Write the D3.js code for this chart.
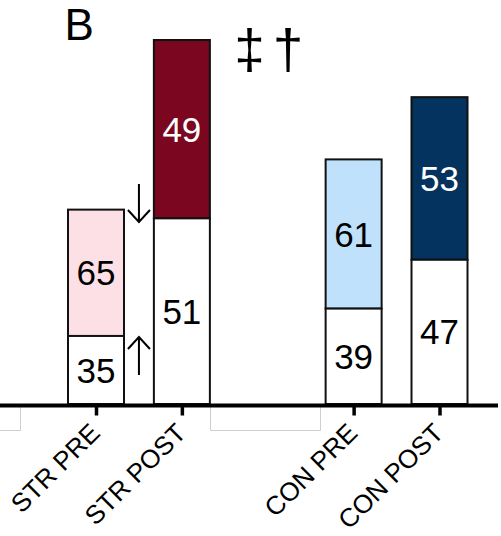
<!DOCTYPE html>
<html>
<head>
<meta charset="utf-8">
<script src="https://cdn.jsdelivr.net/npm/d3@7/dist/d3.min.js"></script>
<style>
  html, body { margin: 0; padding: 0; background: #fff; }
  svg { display: block; font-family: "Liberation Sans", Arial, sans-serif; }
</style>
</head>
<body>
<svg id="chart" width="501" height="536"></svg>
<script>
// Groups along the x axis; "" is an empty slot separating STR from CON
const slots = ["STR PRE", "STR POST", "", "CON PRE", "CON POST"];
const categories = ["STR PRE", "STR POST", "CON PRE", "CON POST"];
// Total bar height (relative units)
const totals = [53.4, 100, 67.2, 84.3];
// Percent of each bar: lower (white) part and upper (coloured) part
const lowerPct = [35, 51, 39, 47];
const upperPct = [65, 49, 61, 53];
const upperColors = ["#fde0e6", "#7b0620", "#bfe1fb", "#03335e"];
const upperTextColors = ["#000", "#fff", "#000", "#fff"];

const svg = d3.select("#chart");
const baseY = 404;
const barW = 56;

const x = d3.scalePoint().domain(slots).range([96, 439.5]);
const y = d3.scaleLinear().domain([0, 100]).range([baseY, 40]);

const rows = categories.map((c, i) => ({
  cat: c,
  total: totals[i],
  lower: totals[i] * lowerPct[i] / 100,
  lowerPct: lowerPct[i],
  upperPct: upperPct[i],
  color: upperColors[i],
  tcolor: upperTextColors[i]
}));

// faint guide boxes below the axis
const guide = svg.append("g").attr("fill", "none").attr("stroke", "#cfcfcf").attr("stroke-width", 1);
guide.append("path").attr("d", "M0,430.5H20.5V406");
guide.append("path").attr("d", "M210.5,406V430.5H320.5V406");

const bars = svg.append("g").selectAll("g").data(rows).join("g");

// upper (coloured) segment
bars.append("rect")
  .attr("x", d => x(d.cat) - barW / 2)
  .attr("y", d => y(d.total))
  .attr("width", barW)
  .attr("height", d => y(d.lower) - y(d.total))
  .attr("fill", d => d.color)
  .attr("stroke", "#111").attr("stroke-width", 2);

// lower (white) segment
bars.append("rect")
  .attr("x", d => x(d.cat) - barW / 2)
  .attr("y", d => y(d.lower))
  .attr("width", barW)
  .attr("height", d => y(0) - y(d.lower))
  .attr("fill", "#fff")
  .attr("stroke", "#111").attr("stroke-width", 2);

bars.append("text")
  .attr("x", d => x(d.cat))
  .attr("y", d => (y(d.total) + y(d.lower)) / 2)
  .attr("dy", "0.36em")
  .attr("text-anchor", "middle")
  .attr("font-size", 35)
  .attr("fill", d => d.tcolor)
  .text(d => d.upperPct);

bars.append("text")
  .attr("x", d => x(d.cat))
  .attr("y", d => (y(d.lower) + y(0)) / 2)
  .attr("dy", "0.36em")
  .attr("text-anchor", "middle")
  .attr("font-size", 35)
  .attr("fill", "#000")
  .text(d => d.lowerPct);

// x axis
const axis = svg.append("g")
  .attr("transform", `translate(0,${baseY + 1.5})`)
  .call(d3.axisBottom(x).tickValues(categories).tickSize(10).tickSizeOuter(0));
axis.select(".domain").attr("d", "M0,0H498").attr("stroke", "#000").attr("stroke-width", 4);
axis.selectAll(".tick line").attr("stroke", "#000").attr("stroke-width", 3.5);
axis.selectAll(".tick text")
  .attr("font-size", 26)
  .attr("fill", "#000")
  .attr("font-family", "'Liberation Sans', Arial, sans-serif")
  .attr("text-anchor", "end")
  .attr("x", 0).attr("y", 0)
  .attr("dy", null)
  .attr("transform", "translate(5,29) rotate(-45)");

// change arrows between the STR bars
const arrowX = (x("STR PRE") + x("STR POST")) / 2;
const arr = svg.append("g").attr("fill", "none").attr("stroke", "#000").attr("stroke-width", 2);
arr.append("path").attr("d", `M${arrowX},184V222 M${arrowX - 11},210L${arrowX},222L${arrowX + 11},210`);
arr.append("path").attr("d", `M${arrowX},375V337 M${arrowX - 11},349L${arrowX},337L${arrowX + 11},349`);

// panel letter and significance marks
svg.append("text").attr("x", 64.5).attr("y", 40).attr("font-size", 44).attr("fill", "#000").text("B");
svg.append("text").attr("x", 249.5).attr("y", 68).attr("text-anchor", "middle")
  .attr("font-size", 55).attr("fill", "#000").text("‡");
svg.append("text").attr("x", 288).attr("y", 68).attr("text-anchor", "middle")
  .attr("font-size", 55).attr("fill", "#000").text("†");
</script>
</body>
</html>
